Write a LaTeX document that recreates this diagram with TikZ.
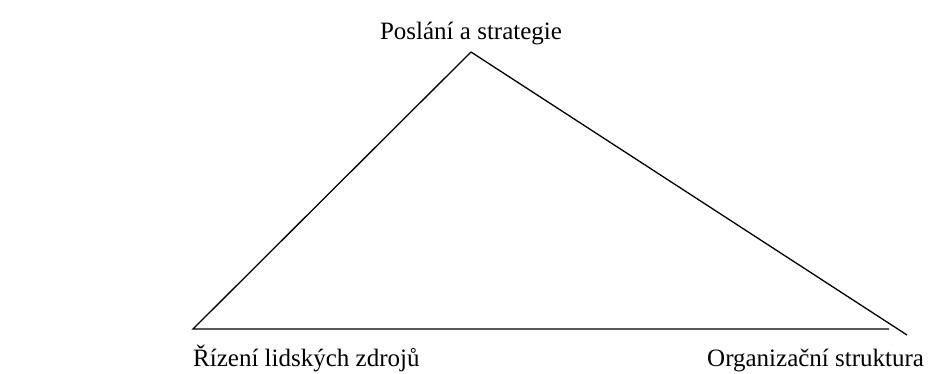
\documentclass[tikz,border=0pt]{standalone}
\usepackage{fontspec}
\setmainfont{Liberation Serif}
\begin{document}
\begin{tikzpicture}[x=1pt,y=-1pt,
  lbl/.style={inner sep=0pt,font=\fontsize{25}{30}\selectfont},
  edge/.style={line width=1.3pt,line cap=butt}]
\useasboundingbox (0,0) rectangle (952,373);
\coordinate (apex) at (471,52);
\coordinate (bl) at (193,329);
\coordinate (br) at (889,329);
\coordinate (rt) at (907,335);
\node[lbl,anchor=base] (top) at (471,39) {Poslání a strategie};
\node[lbl,anchor=base west] (left) at (193,366) {Řízení lidských zdrojů};
\node[lbl,anchor=base west] (right) at (707,366) {Organizační struktura};
\draw[edge] (apex) -- (bl) -- (br);
\draw[edge] (apex) -- (rt);
\end{tikzpicture}
\end{document}
